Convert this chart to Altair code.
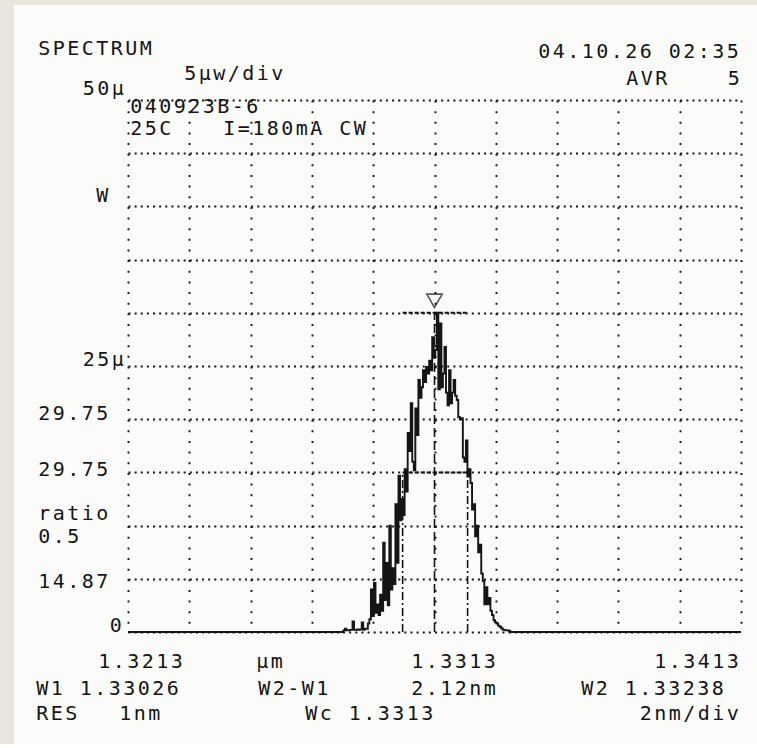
import altair as alt
import pandas as pd

# ---- scan settings -------------------------------------------------------
SPAN_START = 1.3213          # µm, left edge
SPAN_STOP = 1.3413           # µm, right edge
X_GRID = [1.3213, 1.3233, 1.3253, 1.3273, 1.3293, 1.3313,
          1.3333, 1.3353, 1.3373, 1.3393, 1.3413]
Y_GRID = [0, 5, 10, 15, 20, 25, 30, 35, 40, 45, 50]
POWER_MAX = 50               # µW at top of screen

# ---- measured trace (µW), sampled every 0.05 nm from TRACE_START ---------
TRACE_START = 1.3282
TRACE_STEP = 0.00005
TRACE_UW = [
    0, 0, 0, 0.15, 0.3, 0.15, 0.15, 0.2, 0.2, 1.0,
    0.2, 0.2, 0.25, 0.2, 0.25, 0.9, 0.2, 0.3, 0.3, 0.8,
    1.2, 4.0, 1.5, 4.6, 1.8, 2.6, 1.6, 3.5, 2.0, 8.4,
    3.0, 6.5, 2.5, 10.0, 4.0, 6.0, 4.5, 12.0, 6.5, 14.7,
    10.5, 12.5, 11.0, 15.3, 13.2, 18.7, 17.0, 21.5, 16.0, 15.2,
    21.0, 18.5, 23.7, 22.0, 23.0, 24.6, 23.5, 24.9, 24.3, 25.5,
    24.6, 27.7, 25.8, 26.5, 30.0, 22.8, 29.0, 23.0, 24.3, 26.8,
    22.5, 21.3, 24.6, 21.5, 22.5, 23.7, 22.2, 21.8, 20.2, 20.0,
    20.1, 16.4, 16.0, 18.0, 14.6, 15.3, 14.0, 11.5, 12.0, 9.0,
    10.0, 7.5, 8.2, 5.5, 4.8, 2.6, 4.2, 2.6, 3.2, 2.0,
    1.6, 1.1, 0.9, 0.8, 0.6, 0.5, 0.35, 0.2, 0.2, 0.15,
    0.15, 0.1, 0, 0,
]

# ---- analysis results ----------------------------------------------------
W1 = 1.33026
W2 = 1.33238
WC = 1.3313
PEAK_UW = max(TRACE_UW)

# ---- printed annotation lines: (text, anchor px, baseline px, anchor side) -
# coordinates are relative to the top-left corner of the screen area
HEADER = [
    ("SPECTRUM", -91, -45, "left"),
    ("04.10.26 02:35", 612, -42, "right"),
    ("5µw/div", 55, -20, "left"),
    ("AVR    5", 497, -15, "left"),
    ("040923B-6", 1, 13, "left"),
    ("25C", 1, 35, "left"),
    ("I=180mA CW", 94, 35, "left"),
]
SCALE_LABELS = [
    ("50µ", -3, -5, "right"),
    ("W", -33, 102, "left"),
    ("25µ", -3, 266, "right"),
    ("29.75", -91, 320, "left"),
    ("29.75", -91, 376, "left"),
    ("ratio", -91, 420, "left"),
    ("0.5", -91, 443, "left"),
    ("14.87", -91, 488, "left"),
    ("0", -5, 532, "right"),
]
FOOTER = [
    ("1.3213", -31, 568, "left"),
    ("µm", 127, 568, "left"),
    ("1.3313", 282, 568, "left"),
    ("1.3413", 612, 568, "right"),
    ("W1 1.33026", -93, 595, "left"),
    ("W2-W1", 129, 595, "left"),
    ("2.12nm", 282, 595, "left"),
    ("W2 1.33238", 597, 595, "right"),
    ("RES", -93, 620, "left"),
    ("1nm", -10, 620, "left"),
    ("Wc 1.3313", 176, 620, "left"),
    ("2nm/div", 612, 620, "right"),
]

INK = "#151515"
PAPER = "#fbfbf9"
BACKDROP = "#e7e5dc"
FONT = "DejaVu Sans Mono"
FS = 20
PITCH = 14.5                 # printer character cell width, px

xs = alt.Scale(domain=[SPAN_START, SPAN_STOP], nice=False, zero=False)
ys = alt.Scale(domain=[0, POWER_MAX], nice=False, zero=True)
# dotted screen graticule, drawn above the paper sheet
x_axis = alt.Axis(values=X_GRID, grid=True, labels=False, ticks=False,
                  domain=False, title=None, gridColor=INK, gridWidth=1.9,
                  gridDash=[2, 8.64], zindex=1)
y_axis = alt.Axis(values=Y_GRID, grid=True, labels=False, ticks=False,
                  domain=False, title=None, gridColor=INK, gridWidth=1.9,
                  gridDash=[2, 4.13], zindex=1)


def xf(field):
    return alt.X(f"{field}:Q", scale=xs, axis=x_axis)


def yf(field):
    return alt.Y(f"{field}:Q", scale=ys, axis=y_axis)


ONE = pd.DataFrame({"k": [0]})

# paper sheet
paper = alt.Chart(ONE).mark_rect(color=PAPER).encode(
    x=alt.value(-114), x2=alt.value(700), y=alt.value(-95), y2=alt.value(700)
)

# spectrum trace, flat at zero outside the sampled band
wl = [SPAN_START] + [TRACE_START + i * TRACE_STEP for i in range(len(TRACE_UW))] + [SPAN_STOP]
pw = [0] + TRACE_UW + [0]
trace_df = pd.DataFrame({"wl": wl, "uw": pw})
trace = alt.Chart(trace_df).mark_line(
    interpolate="step", color=INK, strokeWidth=1.9
).encode(x=xf("wl"), y=yf("uw"))

mk = pd.DataFrame({"w1": [W1], "w2": [W2], "wc": [WC], "peak": [PEAK_UW],
                   "half": [PEAK_UW / 2], "zero": [0]})
peak_line = alt.Chart(mk).mark_rule(color=INK, strokeWidth=2, strokeDash=[4, 2]).encode(
    x=xf("w1"), x2="w2", y=yf("peak"))
half_line = alt.Chart(mk).mark_rule(color=INK, strokeWidth=2, strokeDash=[4, 2]).encode(
    x=xf("w1"), x2="w2", y=yf("half"))
w1_line = alt.Chart(mk).mark_rule(color=INK, strokeWidth=1.6, strokeDash=[8, 3, 2, 3]).encode(
    x=xf("w1"), y=yf("zero"), y2="half")
w2_line = alt.Chart(mk).mark_rule(color=INK, strokeWidth=1.6, strokeDash=[8, 3, 2, 3]).encode(
    x=xf("w2"), y=yf("zero"), y2="half")
wc_line = alt.Chart(mk).mark_rule(color=INK, strokeWidth=1.6, strokeDash=[9, 4]).encode(
    x=xf("wc"), y=yf("zero"), y2="peak")
marker = alt.Chart(mk).mark_point(
    shape="triangle-down", filled=False, size=240, color=INK, strokeWidth=1.6, yOffset=-12
).encode(x=xf("wc"), y=yf("peak"))


def typeset(lines):
    """Lay each string out on the printer's fixed character pitch."""
    rows = []
    for text, x0, base, side in lines:
        left = x0 if side == "left" else x0 - PITCH * len(text)
        for k, ch in enumerate(text):
            if ch != " ":
                rows.append({"ch": ch, "px": left + PITCH * (k + 0.5), "py": base})
    return rows


chars = pd.DataFrame(typeset(HEADER) + typeset(SCALE_LABELS) + typeset(FOOTER))
lettering = alt.Chart(chars).mark_text(
    font=FONT, fontSize=FS, color=INK, align="center", baseline="alphabetic", clip=False
).encode(
    x=alt.X("px:Q", scale=None, axis=None),
    y=alt.Y("py:Q", scale=None, axis=None),
    text="ch:N",
)

chart = alt.layer(
    paper, trace, peak_line, half_line, w1_line, w2_line, wc_line, marker, lettering
).properties(
    width=613,
    height=532,
    padding={"left": 128, "top": 100, "right": 16, "bottom": 112},
    autosize=alt.AutoSizeParams(type="none"),
    background=BACKDROP,
).configure_view(stroke=None)

chart.save("out.html", embed_options={"renderer": "svg", "actions": False})
